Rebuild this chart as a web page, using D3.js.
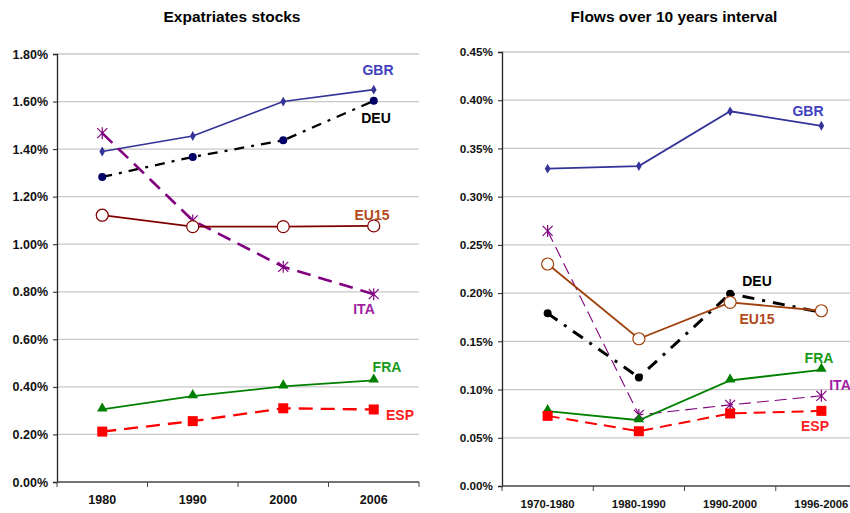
<!DOCTYPE html>
<html>
<head>
<meta charset="utf-8">
<script src="https://cdn.jsdelivr.net/npm/d3@7"></script>
<style>
  body { margin: 0; background: #fff; }
  svg { display: block; font-family: "Liberation Sans", Arial, sans-serif; }
</style>
</head>
<body>
<svg id="chart" width="850" height="513"></svg>
<script>
// left panel: stocks (% of population)
var stockYears = ['1980', '1990', '2000', '2006'];
var stockGBR = [1.39, 1.455, 1.60, 1.65];
var stockDEU = [1.283, 1.367, 1.437, 1.603];
var stockITA = [1.467, 1.10, 0.905, 0.79];
var stockEU15 = [1.122, 1.074, 1.074, 1.077];
var stockFRA = [0.305, 0.361, 0.402, 0.427];
var stockESP = [0.212, 0.256, 0.31, 0.305];
var stockTicks = [0, 0.2, 0.4, 0.6, 0.8, 1.0, 1.2, 1.4, 1.6, 1.8];

// right panel: flows over 10 years
var flowPeriods = ['1970-1980', '1980-1990', '1990-2000', '1996-2006'];
var flowGBR = [0.329, 0.3317, 0.3885, 0.3735];
var flowDEU = [0.179, 0.1126, 0.1994, 0.18];
var flowITA = [0.2645, 0.0737, 0.0841, 0.0935];
var flowEU15 = [0.2302, 0.1527, 0.1904, 0.1817];
var flowFRA = [0.0776, 0.0682, 0.1094, 0.1205];
var flowESP = [0.0727, 0.0568, 0.0752, 0.0779];
var flowTicks = [0, 0.05, 0.10, 0.15, 0.20, 0.25, 0.30, 0.35, 0.40, 0.45];

var svg = d3.select('#chart');

function drawPanel(opt) {
  var g = svg.append('g');
  var x = d3.scaleBand().domain(opt.cats).range([opt.left, opt.right]);
  var y = d3.scaleLinear().domain([0, opt.ymax]).range([opt.bottom, opt.top]);

  // title
  g.append('text')
    .attr('x', opt.titleX).attr('y', 22)
    .attr('text-anchor', 'middle')
    .attr('font-size', 15.5).attr('font-weight', 'bold')
    .text(opt.title);

  // gridlines
  g.append('g').selectAll('line')
    .data(opt.ticks.filter(function(d) { return d > 0; }))
    .enter().append('line')
    .attr('x1', opt.left).attr('x2', opt.right)
    .attr('y1', function(d) { return y(d); })
    .attr('y2', function(d) { return y(d); })
    .attr('stroke', '#c8c8c8').attr('stroke-width', 1.3);

  // y axis
  var yAxis = d3.axisLeft(y).tickValues(opt.ticks).tickSize(4).tickPadding(5)
    .tickFormat(function(d) { return d.toFixed(2) + '%'; });
  var ya = g.append('g').attr('transform', 'translate(' + opt.left + ',0)').call(yAxis);
  ya.selectAll('text').attr('font-size', opt.yFont).attr('font-weight', 'bold')
    .attr('fill', '#111').attr('font-family', '"Liberation Sans", Arial, sans-serif');
  ya.select('.domain').attr('stroke', '#222').attr('stroke-width', 1.3);
  ya.selectAll('.tick line').attr('stroke', '#222');

  // x axis
  var xa = g.append('g').attr('transform', 'translate(0,' + opt.bottom + ')');
  xa.append('line').attr('x1', opt.left).attr('x2', opt.right)
    .attr('stroke', '#444').attr('stroke-width', 1.5);
  var bounds = opt.cats.map(function(c) { return x(c); }).concat([opt.right]);
  xa.selectAll('.xt').data(bounds).enter().append('line')
    .attr('x1', function(d) { return d; }).attr('x2', function(d) { return d; })
    .attr('y1', 0).attr('y2', 5).attr('stroke', '#444');
  xa.selectAll('.xl').data(opt.cats).enter().append('text')
    .attr('x', function(d) { return x(d) + x.bandwidth() / 2; })
    .attr('y', 22)
    .attr('text-anchor', 'middle')
    .attr('font-size', opt.xFont).attr('font-weight', 'bold').attr('fill', '#111')
    .text(function(d) { return d; });

  var cx = function(i) { return x(opt.cats[i]) + x.bandwidth() / 2; };
  var line = d3.line().x(function(d, i) { return cx(i); }).y(function(d) { return y(d); });

  opt.series.forEach(function(s) {
    g.append('path')
      .attr('d', line(s.values))
      .attr('fill', 'none')
      .attr('stroke', s.color)
      .attr('stroke-width', s.width)
      .attr('stroke-dasharray', s.dash || null);

    var mg = g.append('g');
    s.values.forEach(function(v, i) {
      var px = cx(i), py = y(v);
      if (s.marker === 'diamond') {
        mg.append('path').attr('d', d3.symbol(d3.symbolDiamond, 28)())
          .attr('transform', 'translate(' + px + ',' + py + ')').attr('fill', s.mcolor);
      } else if (s.marker === 'dot') {
        mg.append('circle').attr('cx', px).attr('cy', py).attr('r', 4).attr('fill', s.mcolor);
      } else if (s.marker === 'ring') {
        mg.append('circle').attr('cx', px).attr('cy', py).attr('r', 6)
          .attr('fill', '#fff').attr('stroke', s.mcolor).attr('stroke-width', 1.2);
      } else if (s.marker === 'tri') {
        mg.append('path').attr('d', d3.symbol(d3.symbolTriangle, 48)())
          .attr('transform', 'translate(' + px + ',' + (py - 1) + ')').attr('fill', s.mcolor);
      } else if (s.marker === 'square') {
        mg.append('rect').attr('x', px - 5).attr('y', py - 5).attr('width', 10).attr('height', 10)
          .attr('fill', s.mcolor);
      } else if (s.marker === 'star') {
        var r = 5;
        mg.append('path')
          .attr('d', 'M' + (px - r) + ',' + (py - r) + 'L' + (px + r) + ',' + (py + r) +
                'M' + (px - r) + ',' + (py + r) + 'L' + (px + r) + ',' + (py - r) +
                'M' + px + ',' + (py - r - 1) + 'L' + px + ',' + (py + r + 1))
          .attr('stroke', s.mcolor).attr('stroke-width', 1.2).attr('fill', 'none');
      }
    });
  });

  opt.labels.forEach(function(l) {
    g.append('text')
      .attr('x', l.x).attr('y', l.y)
      .attr('text-anchor', 'middle')
      .attr('font-size', 14).attr('font-weight', 'bold')
      .attr('fill', l.color)
      .text(l.text);
  });
}

drawPanel({
  title: 'Expatriates stocks', titleX: 232,
  cats: stockYears, ymax: 1.8, ticks: stockTicks,
  left: 57, right: 419, top: 54, bottom: 482, yFont: 12.5, xFont: 12.5,
  series: [
    { values: stockGBR, color: '#333399', width: 1.6, marker: 'diamond', mcolor: '#333399' },
    { values: stockDEU, color: '#000', width: 2.3, dash: '10,7,3,7', marker: 'dot', mcolor: '#000066' },
    { values: stockITA, color: '#800080', width: 2.6, dash: '14,8', marker: 'star', mcolor: '#800080' },
    { values: stockEU15, color: '#800000', width: 1.8, marker: 'ring', mcolor: '#800000' },
    { values: stockFRA, color: '#008000', width: 1.8, marker: 'tri', mcolor: '#008000' },
    { values: stockESP, color: '#ff0000', width: 2.3, dash: '14,8', marker: 'square', mcolor: '#ff0000' }
  ],
  labels: [
    { text: 'GBR', x: 378, y: 75, color: '#4040c0' },
    { text: 'DEU', x: 376, y: 123, color: '#000' },
    { text: 'EU15', x: 372, y: 220, color: '#b34a1a' },
    { text: 'ITA', x: 364, y: 314, color: '#a020a0' },
    { text: 'FRA', x: 387, y: 372, color: '#1a9a1a' },
    { text: 'ESP', x: 400, y: 420, color: '#ff2020' }
  ]
});

drawPanel({
  title: 'Flows over 10 years interval', titleX: 674,
  cats: flowPeriods, ymax: 0.45, ticks: flowTicks,
  left: 502, right: 867, top: 52, bottom: 486, yFont: 11.7, xFont: 11.3,
  series: [
    { values: flowGBR, color: '#333399', width: 1.8, marker: 'diamond', mcolor: '#333399' },
    { values: flowITA, color: '#800080', width: 1.1, dash: '12,6', marker: 'star', mcolor: '#800080' },
    { values: flowDEU, color: '#000', width: 3, dash: '12,8,3,8', marker: 'dot', mcolor: '#000' },
    { values: flowEU15, color: '#a0400a', width: 1.8, marker: 'ring', mcolor: '#a0400a' },
    { values: flowFRA, color: '#008000', width: 1.8, marker: 'tri', mcolor: '#008000' },
    { values: flowESP, color: '#ff0000', width: 2, dash: '12,7', marker: 'square', mcolor: '#ff0000' }
  ],
  labels: [
    { text: 'GBR', x: 808, y: 116, color: '#4040c0' },
    { text: 'DEU', x: 757, y: 286, color: '#000' },
    { text: 'EU15', x: 757, y: 324, color: '#b34a1a' },
    { text: 'FRA', x: 819, y: 363, color: '#1a9a1a' },
    { text: 'ITA', x: 840, y: 390, color: '#a020a0' },
    { text: 'ESP', x: 815, y: 431, color: '#ff2020' }
  ]
});
</script>
</body>
</html>
